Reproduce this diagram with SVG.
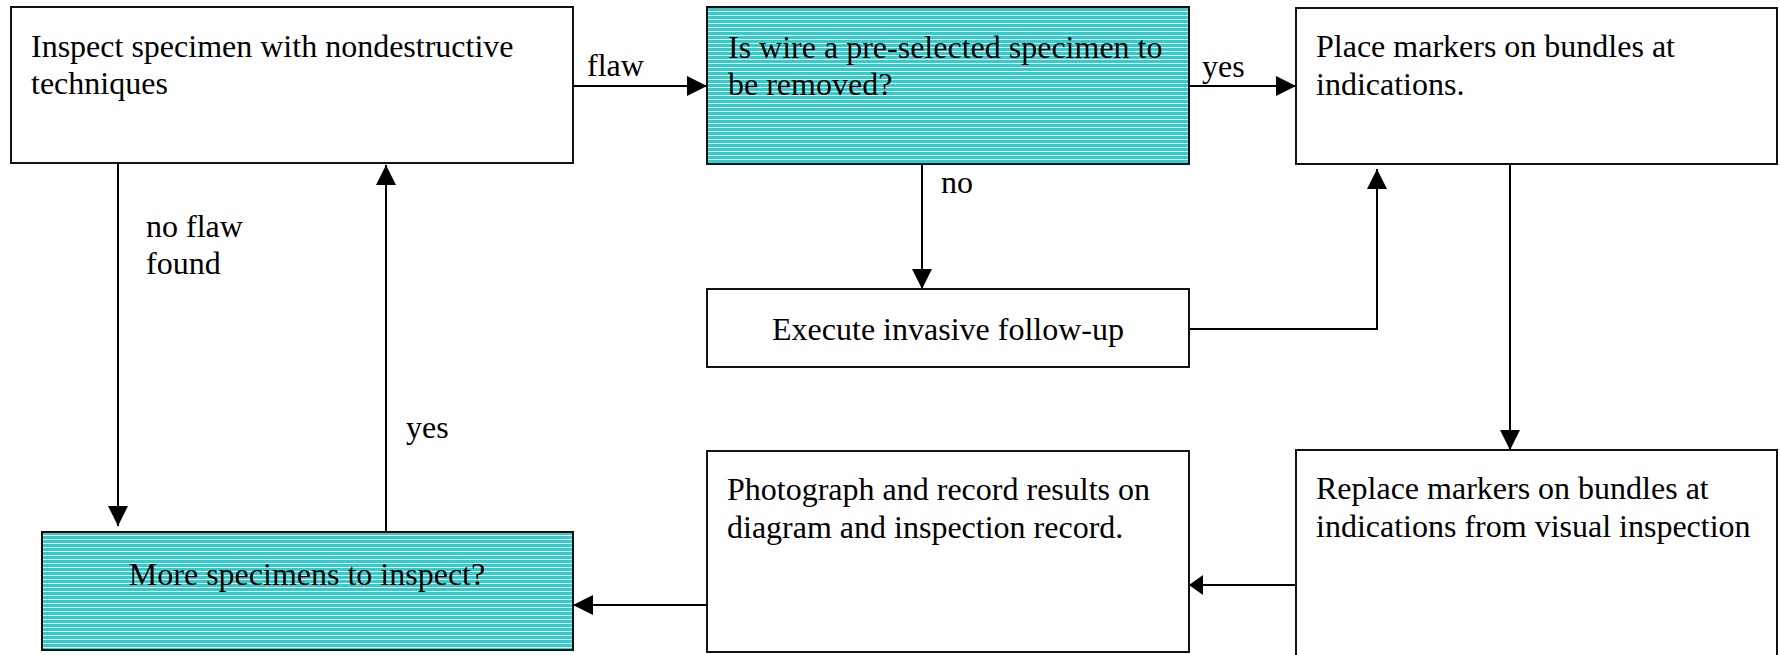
<svg xmlns="http://www.w3.org/2000/svg" width="1780" height="655" viewBox="0 0 1780 655">
  <style>
    .box { fill: #ffffff; stroke: #111111; stroke-width: 2; }
    .hatched { fill: url(#hatch); stroke: #111111; stroke-width: 2; }
    .txt { font-family: "Liberation Serif", "Times New Roman", serif; font-size: 32px; fill: #000000; }
    .mid { text-anchor: middle; }
    .wire { fill: none; stroke: #000000; stroke-width: 2; }
    .arrow { marker-end: url(#head); }
    .arrow-short { marker-end: url(#headShort); }
  </style>
  <defs>
    <!-- cyan fill crossed by thin white horizontal rules -->
    <pattern id="hatch" x="0" y="0" width="8" height="4" patternUnits="userSpaceOnUse">
      <rect width="8" height="4" fill="#33CCCC"/>
      <rect y="3" width="8" height="1" fill="#ffffff"/>
    </pattern>
    <marker id="head" markerUnits="userSpaceOnUse" markerWidth="20" markerHeight="20" refX="20" refY="10" orient="auto" viewBox="0 0 20 20">
      <path d="M0,0 L20,10 L0,20 Z" fill="#000000"/>
    </marker>
    <marker id="headShort" markerUnits="userSpaceOnUse" markerWidth="14" markerHeight="20" refX="14" refY="10" orient="auto" viewBox="0 0 14 20">
      <path d="M0,0 L14,10 L0,20 Z" fill="#000000"/>
    </marker>
  </defs>

  <rect width="1780" height="655" fill="#ffffff"/>

  <!-- connectors -->
  <g id="connectors">
    <line class="wire arrow" x1="573" y1="86" x2="707" y2="86"/>
    <line class="wire arrow" x1="1189" y1="86" x2="1296" y2="86"/>
    <line class="wire arrow" x1="922" y1="164" x2="922" y2="289"/>
    <polyline class="wire arrow" points="1189,329 1377,329 1377,169"/>
    <line class="wire arrow" x1="1510" y1="164" x2="1510" y2="450"/>
    <line class="wire arrow-short" x1="1296" y1="585" x2="1189" y2="585"/>
    <line class="wire arrow" x1="707" y1="605" x2="573" y2="605"/>
    <line class="wire arrow" x1="118" y1="164" x2="118" y2="526"/>
    <line class="wire arrow" x1="386" y1="532" x2="386" y2="165"/>
    <text class="txt" x="587" y="76">flaw</text>
    <text class="txt" x="1202" y="77">yes</text>
    <text class="txt" x="941" y="193">no</text>
    <text class="txt" x="146" y="237">no flaw</text>
    <text class="txt" x="146" y="274">found</text>
    <text class="txt" x="406" y="438">yes</text>
  </g>

  <g id="inspect">
    <rect class="box" x="11" y="7" width="562" height="156"/>
    <text class="txt" x="31" y="57">Inspect specimen with nondestructive</text>
    <text class="txt" x="31" y="94">techniques</text>
  </g>

  <g id="preselected">
    <rect class="hatched" x="707" y="7" width="482" height="157"/>
    <text class="txt" x="728" y="58">Is wire a pre-selected specimen to</text>
    <text class="txt" x="728" y="95">be removed?</text>
  </g>

  <g id="place-markers">
    <rect class="box" x="1296" y="8" width="481" height="156"/>
    <text class="txt" x="1316" y="57">Place markers on bundles at</text>
    <text class="txt" x="1316" y="95">indications.</text>
  </g>

  <g id="invasive">
    <rect class="box" x="707" y="289" width="482" height="78"/>
    <text class="txt mid" x="948" y="340">Execute invasive follow-up</text>
  </g>

  <g id="replace-markers">
    <rect class="box" x="1296" y="450" width="481" height="212"/>
    <text class="txt" x="1316" y="499">Replace markers on bundles at</text>
    <text class="txt" x="1316" y="537">indications from visual inspection</text>
  </g>

  <g id="photograph">
    <rect class="box" x="707" y="451" width="482" height="201"/>
    <text class="txt" x="727" y="500">Photograph and record results on</text>
    <text class="txt" x="727" y="538">diagram and inspection record.</text>
  </g>

  <g id="more-specimens">
    <rect class="hatched" x="42" y="532" width="531" height="118"/>
    <text class="txt mid" x="307" y="585">More specimens to inspect?</text>
  </g>
</svg>
